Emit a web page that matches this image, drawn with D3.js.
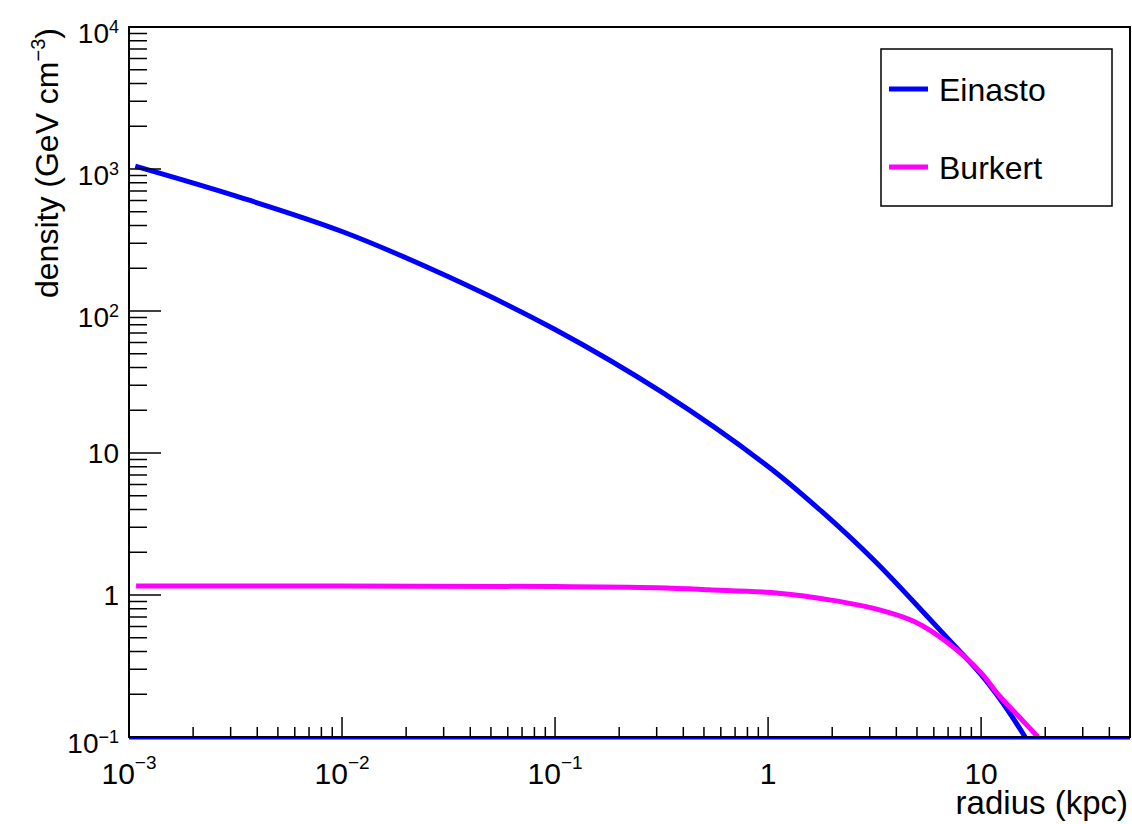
<!DOCTYPE html>
<meta charset="utf-8">
<head>
<title>Density profiles</title>
<style>
body { margin: 0; background: white; font-family: "Liberation Sans", Arial, sans-serif; }
.frame { fill: none; stroke: black; stroke-width: 2; }
.tick line { stroke: black; stroke-width: 1.5; }
.curve { fill: none; stroke-width: 5; stroke-linejoin: round; }
</style>
</head>
<body>
<svg width="1132" height="824"></svg>
<script src="https://cdnjs.cloudflare.com/ajax/libs/d3/7.8.5/d3.min.js"></script>
<script>
// values (radius in kpc, density in GeV cm^-3)
var einastoR   = [0.00107, 0.00316, 0.01, 0.0316, 0.1, 0.316, 1, 1.78, 3.16, 5.62, 7.5, 10, 12.6, 16.1];
var einastoRho = [1047, 646, 363, 174, 74.1, 26.9, 8.04, 3.89, 1.74, 0.70, 0.44, 0.275, 0.175, 0.1];
var burkertR   = [0.00108, 0.01, 0.1, 0.3, 0.526, 1.12, 1.98, 3.4, 4.91, 7, 10, 12, 15, 18.5];
var burkertRho = [1.156, 1.155, 1.148, 1.125, 1.09, 1.03, 0.92, 0.78, 0.646, 0.459, 0.283, 0.2, 0.14, 0.1];

var seriesNames  = ["Einasto", "Burkert"];
var seriesColors = ["#0000ff", "#ff00ff"];

var xMajor = [1e-3, 1e-2, 1e-1, 1, 10];
var xLabels = [["10", "\u22123"], ["10", "\u22122"], ["10", "\u22121"], ["1", ""], ["10", ""]];
var yMajor = [0.1, 1, 10, 100, 1000, 10000];
var yLabels = [["10", "\u22121"], ["1", ""], ["10", ""], ["10", "2"], ["10", "3"], ["10", "4"]];

var xTitle = "radius (kpc)";
var yTitle = ["density (GeV cm", "\u22123", ")"];

//////////////////////////////////////////////////
// layout
//////////////////////////////////////////////////
var padL = 129, padR = 1130, padT = 27, padB = 737;
var svg = d3.select("svg");

var x = d3.scaleLog().domain([1e-3, 50]).range([padL, padR]);
var y = d3.scaleLog().domain([0.1, 1e4]).range([padB, padT]);

function minors(major, lo, hi) {
	var out = [];
	major.forEach(function(m) {
		for (var k = 2; k <= 9; k++) {
			var v = m * k;
			if (v > lo && v < hi) out.push(v);
		}
	});
	return out;
}

svg.append("defs").append("clipPath").attr("id", "plot")
	.append("rect").attr("x", padL).attr("y", padT - 3)
	.attr("width", padR - padL).attr("height", padB - padT + 3);

// line along the bottom of the frame
svg.append("line")
	.attr("x1", x(x.domain()[0])).attr("x2", x(x.domain()[1]))
	.attr("y1", y(y.domain()[0]) + 1).attr("y2", y(y.domain()[0]) + 1)
	.attr("stroke", seriesColors[0]).attr("stroke-width", 3);

// curves
var series = [
	{ r: einastoR, rho: einastoRho, color: seriesColors[0] },
	{ r: burkertR, rho: burkertRho, color: seriesColors[1] }
];
var line = d3.line()
	.x(function(d) { return x(d[0]); })
	.y(function(d) { return y(d[1]); })
	.curve(d3.curveCatmullRom.alpha(0.5));

svg.append("g").attr("clip-path", "url(#plot)")
	.selectAll("path").data(series).enter()
	.append("path")
	.attr("class", "curve")
	.attr("stroke", function(d) { return d.color; })
	.attr("d", function(d) { return line(d3.zip(d.r, d.rho)); });

// frame
svg.append("rect").attr("class", "frame")
	.attr("x", padL).attr("y", padT)
	.attr("width", padR - padL).attr("height", padB - padT);

// x ticks (pointing up)
var xt = svg.append("g").attr("class", "tick");
xt.selectAll(".maj").data(xMajor).enter().append("line")
	.attr("x1", function(d) { return x(d); }).attr("x2", function(d) { return x(d); })
	.attr("y1", padB).attr("y2", padB - 20);
xt.selectAll(".min").data(minors(xMajor, 1e-3, 50)).enter().append("line")
	.attr("x1", function(d) { return x(d); }).attr("x2", function(d) { return x(d); })
	.attr("y1", padB).attr("y2", padB - 10);

// y ticks (pointing right)
var yt = svg.append("g").attr("class", "tick");
yt.selectAll(".maj").data(yMajor.slice(1, -1)).enter().append("line")
	.attr("y1", function(d) { return y(d); }).attr("y2", function(d) { return y(d); })
	.attr("x1", padL).attr("x2", padL + 32);
yt.selectAll(".min").data(minors(yMajor, 0.1, 1e4)).enter().append("line")
	.attr("y1", function(d) { return y(d); }).attr("y2", function(d) { return y(d); })
	.attr("x1", padL).attr("x2", padL + 18);

// x labels
xMajor.forEach(function(v, i) {
	var t = svg.append("text")
		.attr("x", x(v)).attr("y", 784)
		.attr("text-anchor", "middle")
		.style("font-size", "30px");
	t.append("tspan").text(xLabels[i][0]);
	if (xLabels[i][1]) t.append("tspan").attr("dy", -15).style("font-size", "19px").text(xLabels[i][1]);
});

// y labels
yMajor.forEach(function(v, i) {
	var hasExp = yLabels[i][1] != "";
	var t = svg.append("text")
		.attr("x", 119).attr("y", y(v) + (hasExp ? 16 : 10))
		.attr("text-anchor", "end")
		.style("font-size", "28px");
	t.append("tspan").text(yLabels[i][0]);
	if (hasExp) t.append("tspan").attr("dy", -10).style("font-size", "18px").text(yLabels[i][1]);
});

// axis titles
svg.append("text")
	.attr("x", 1128).attr("y", 814)
	.attr("text-anchor", "end")
	.style("font-size", "33px")
	.text(xTitle);

var yt2 = svg.append("text")
	.attr("transform", "translate(58,28) rotate(-90)")
	.attr("text-anchor", "end")
	.style("font-size", "32px");
yt2.append("tspan").text(yTitle[0]);
yt2.append("tspan").attr("dy", -13).style("font-size", "20px").text(yTitle[1]);
yt2.append("tspan").attr("dy", 13).text(yTitle[2]);

// legend
var lg = svg.append("g");
lg.append("rect")
	.attr("x", 881).attr("y", 49).attr("width", 231).attr("height", 157)
	.attr("fill", "white").attr("stroke", "black").attr("stroke-width", 1.5);
var rows = lg.selectAll(".row").data(seriesNames).enter().append("g")
	.attr("transform", function(d, i) { return "translate(0," + (89 + i * 78) + ")"; });
rows.append("line")
	.attr("x1", 889).attr("x2", 928)
	.attr("stroke", function(d, i) { return seriesColors[i]; })
	.attr("stroke-width", 5);
rows.append("text")
	.attr("x", 939).attr("y", 12)
	.style("font-size", "32px")
	.text(function(d) { return d; });
</script>
</body>
</html>
